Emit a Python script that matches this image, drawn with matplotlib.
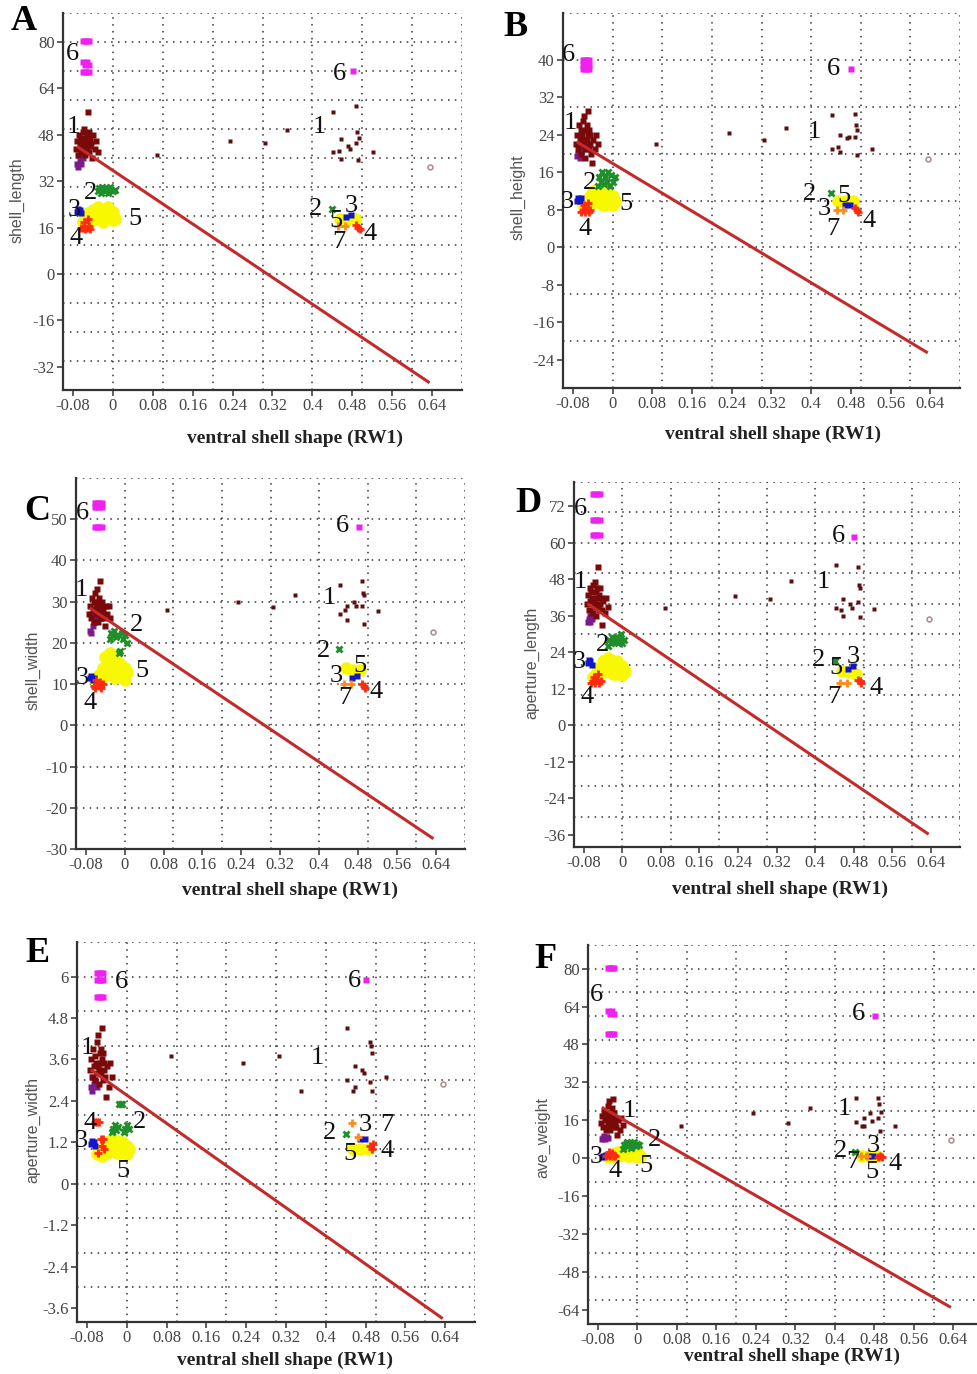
import numpy as np
import matplotlib
matplotlib.use('Agg')
import matplotlib.pyplot as plt

plt.rcParams['font.family'] = 'Liberation Serif'

# ---- shared x: ventral shell shape (RW1) ----
# group 1, left cluster (maroon)
g1L_x = [-0.074, -0.071, -0.069, -0.067, -0.066, -0.064, -0.063, -0.062, -0.060, -0.059,
         -0.058, -0.057, -0.056, -0.055, -0.054, -0.053, -0.052, -0.051, -0.050, -0.049,
         -0.048, -0.047, -0.046, -0.045, -0.043, -0.041, -0.039, -0.036, -0.033, -0.030]
g1L_y = [
    [43, 46, 41, 48, 44, 47, 42, 45, 49, 43, 46, 50, 44, 41, 47, 45, 48, 43, 56, 46, 42, 49, 44, 47, 45, 40, 48, 43, 46, 42],
    [22, 24, 21, 26, 23, 25, 20, 24, 27, 22, 23, 28, 21, 19, 25, 22, 26, 23, 29, 24, 21, 25, 22, 24, 20, 18, 23, 21, 24, 22],
    [27, 29, 26, 31, 28, 30, 25, 28, 32, 27, 29, 33, 27, 25, 30, 28, 31, 26, 35, 29, 26, 30, 27, 28, 26, 24, 29, 27, 29, 26],
    [40, 43, 38, 45, 41, 44, 37, 42, 46, 39, 41, 47, 40, 36, 44, 42, 45, 39, 52, 43, 38, 45, 40, 42, 38, 33, 41, 37, 42, 39],
    [3.3, 3.6, 3.1, 3.9, 3.4, 3.7, 3.0, 3.5, 4.1, 3.2, 3.4, 4.3, 3.3, 2.9, 3.8, 3.5, 3.9, 3.2, 4.5, 3.6, 3.0, 3.8, 3.3, 3.5, 3.1, 2.5, 3.4, 2.8, 3.5, 3.1],
    [15, 18, 13, 20, 16, 19, 12, 17, 22, 14, 16, 24, 15, 12, 19, 17, 21, 14, 25, 18, 13, 19, 15, 17, 13, 10, 16, 12, 17, 14],
]
# group 1, right cluster + scattered specimens (maroon)
g1R_x = [0.442, 0.488, 0.458, 0.490, 0.493, 0.472, 0.476, 0.488, 0.442, 0.454, 0.458, 0.492, 0.522,
         0.088, 0.234, 0.306, 0.350]
g1R_y = [
    [56, 58, 46.5, 49, 47, 44, 43, 45, 42, 42.5, 39.7, 39.4, 42, 41, 46, 45, 49.5],
    [28.3, 28.5, 24, 26, 25, 23.3, 23.5, 23.5, 21, 21.5, 20.3, 19.7, 21, 22, 24.5, 23, 25.5],
    [34, 35, 29, 32, 31.5, 30, 29, 29, 27, 28, 25.5, 24.5, 27.7, 28, 29.8, 28.6, 31.6],
    [52.8, 52, 41.6, 46, 45, 40, 38.7, 40.5, 38.7, 38, 36, 35.5, 38.4, 38.7, 42.5, 41.6, 47.3],
    [4.5, 4.1, 3.4, 4.0, 3.8, 3.3, 3.2, 2.95, 3.0, 2.7, 2.8, 2.7, 3.1, 3.7, 3.5, 3.7, 2.7],
    [25.6, 25.6, 17, 23, 19.5, 19, 15.5, 17, 15.3, 13.5, 13.5, 11.5, 13.5, 13.5, 19, 15, 21],
]
# purple sub-cluster
pur_x = [-0.072, -0.069, -0.066, -0.063, -0.060, -0.067]
pur_y = [
    [38, 37, 39, 38, 40, 41],
    [19.5, 20, 19, 20.5, 21, 22],
    [23, 22.5, 24, 25, 26, 27],
    [34, 35, 36, 35, 37, 34],
    [2.8, 2.7, 2.9, 3.0, 2.8, 3.1],
    [8, 8.5, 8, 9, 8.5, 9.5],
]
# group 2 (green)
g2_x = [-0.030, -0.027, -0.024, -0.021, -0.018, -0.015, -0.012, -0.009, -0.006, -0.003, 0.000, 0.004, 0.440]
g2_y = [
    [28.5, 29.5, 28, 30, 29, 28.5, 29.5, 28, 30, 29, 28.5, 29, 22.5],
    [13, 15, 14, 16, 13.5, 15, 14, 16, 13, 15.5, 14, 15, 11.5],
    [21, 22.5, 22, 23, 21.5, 22, 17.5, 18, 22.5, 21, 22, 20, 18.5],
    [26, 28, 27, 29, 27.5, 28, 29, 27, 28.5, 30, 27, 28, 21],
    [1.5, 1.6, 1.7, 1.55, 1.65, 2.3, 2.3, 2.3, 1.5, 1.6, 1.7, 1.6, 1.45],
    [4, 5.5, 6, 7, 5, 6.5, 4.5, 6, 7, 5, 6, 5.5, 2.5],
]
# group 3 (blue)
g3_x = [-0.072, -0.069, -0.066, -0.063, 0.468, 0.478]
g3_y = [
    [21.5, 22.5, 22, 21, 19.5, 20.5],
    [10, 10.5, 10, 10.5, 9, 9],
    [11.5, 12, 11, 11.5, 11.5, 12],
    [20.5, 21.5, 21, 20, 18.5, 19.5],
    [1.15, 1.25, 1.2, 1.1, 1.3, 1.3],
    [0.5, 1, 0.8, 1.2, 1, 1],
]
# group 4 (red)
g4_x = [-0.064, -0.060, -0.056, -0.052, -0.048, -0.045, -0.058, -0.050, 0.488, 0.492, 0.495]
g4_y = [
    [16, 16, 15.5, 16, 16.5, 15.5, 18, 19, 17, 16, 15.5],
    [7.5, 8, 7.5, 8, 7.5, 8, 9, 9.5, 8.5, 8, 7.5],
    [9.5, 9, 10, 9.5, 9, 10, 11, 10.5, 10, 9.5, 9],
    [14, 14.5, 14, 15, 14, 14.5, 16, 17, 15, 14.5, 14],
    [1.8, 1.8, 1.8, 1.3, 1.3, 1.0, 0.9, 1.1, 1.1, 1.0, 1.15],
    [1, 1.5, 1, 2, 1.5, 1, 2.5, 1, 0.5, 0.8, 0.3],
]
# group 5 (yellow)
g5_x = [-0.060, -0.055, -0.050, -0.045, -0.040, -0.035, -0.030, -0.025, -0.020, -0.015,
        -0.010, -0.005, 0.000, 0.005, -0.040, -0.030, -0.020, -0.010, 0.000, -0.050,
        0.455, 0.470, 0.485]
g5_y = [
    [18, 19, 17.5, 20, 18.5, 19, 21, 20, 22, 19, 21, 20, 18.5, 19, 22, 23, 18, 23, 21.5, 21, 19, 18.5, 19],
    [9, 10, 8.5, 11, 9.5, 10, 11.5, 10, 12, 9, 11, 10.5, 9, 10, 12, 12.5, 9, 11.5, 11, 10, 10, 10, 10],
    [11, 12, 10.5, 14, 12, 13, 16, 14, 17, 12, 15, 13.5, 11, 13, 16.5, 17.5, 11.5, 15, 14, 12.5, 14, 13.5, 13.5],
    [16, 17, 16, 19, 17.5, 18, 20, 19, 21, 17, 20, 19, 16.5, 18, 21, 22, 17, 21, 19.5, 19, 18, 17.5, 17],
    [0.85, 0.9, 0.8, 1.0, 0.9, 1.1, 1.2, 1.0, 1.25, 0.9, 1.1, 1.0, 0.85, 1.0, 1.2, 1.3, 0.9, 1.2, 1.1, 1.05, 1.0, 1.0, 1.0],
    [0.5, 1, 0.5, 2, 1, 1.5, 2.5, 2, 3, 1, 2, 1.5, 0.5, 1, 2.5, 3, 1, 2.5, 2, 1.5, 1, 1, 1],
]
# group 6 (magenta)
g6_x = [-0.060, -0.056, -0.052, -0.047, -0.060, -0.056, -0.052, -0.047, -0.060, -0.056, -0.052, -0.047, 0.481]
g6_y = [
    [80.5, 80.5, 80.5, 80.5, 73, 72, 73, 72, 69.5, 69.5, 69.5, 69.5, 70],
    [40, 40, 40, 40, 39, 39, 39, 39, 38, 38, 38, 38, 38],
    [54, 54, 54, 54, 53, 53, 53, 53, 48, 48, 48, 48, 48],
    [76, 76, 76, 76, 67.5, 67.5, 67.5, 67.5, 62.5, 62.5, 62.5, 62.5, 62],
    [6.1, 6.1, 6.1, 6.1, 5.9, 5.9, 5.9, 5.9, 5.4, 5.4, 5.4, 5.4, 5.9],
    [80.5, 80.5, 80.5, 80.5, 62, 61, 62, 61, 52.5, 52.5, 52.5, 52.5, 60],
]
# group 7 (orange)
g7_x = [0.452, 0.465]
g7_y = [
    [16.5, 16.5],
    [8, 8],
    [10, 10],
    [14, 14],
    [1.75, 1.35],
    [0.8, 0.8],
]
# outlier (grey circle)
out_x = [0.635]
out_y = [[37], [18.8], [22.7], [34.8], [2.9], [7.7]]

# regression lines, endpoints per panel
line_x = [-0.072, 0.635]
line_y = [[44, -37.5], [22.5, -22.5], [28.5, -27.5], [40, -35.8], [3.3, -3.9], [21.5, -63]]

letters = ['A', 'B', 'C', 'D', 'E', 'F']
ylabels = ['shell_length', 'shell_height', 'shell_width', 'aperture_length', 'aperture_width', 'ave_weight']
ylims = [(-40, 90), (-30, 50), (-30, 60), (-40, 80), (-4, 7), (-70, 90)]
yticks = [
    [-32, -16, 0, 16, 32, 48, 64, 80],
    [-24, -16, -8, 0, 8, 16, 24, 32, 40],
    [-30, -20, -10, 0, 10, 20, 30, 40, 50],
    [-36, -24, -12, 0, 12, 24, 36, 48, 60, 72],
    [-3.6, -2.4, -1.2, 0, 1.2, 2.4, 3.6, 4.8, 6],
    [-64, -48, -32, -16, 0, 16, 32, 48, 64, 80],
]
ygrid_step = [10, 10, 10, 10, 1, 10]
xticks = [-0.08, 0, 0.08, 0.16, 0.24, 0.32, 0.4, 0.48, 0.56, 0.64]

# group number labels (text, x, y) per panel
num_labels = [
    [('6', -0.082, 76), ('1', -0.080, 50.8), ('2', -0.044, 28), ('3', -0.078, 22), ('5', 0.044, 19),
     ('4', -0.074, 12.4), ('6', 0.454, 69), ('1', 0.414, 50.8), ('2', 0.406, 22.5), ('3', 0.478, 23.5),
     ('5', 0.448, 18.3), ('7', 0.454, 11), ('4', 0.516, 13.8)],
    [('6', -0.089, 41), ('1', -0.085, 26.5), ('2', -0.046, 13.8), ('3', -0.091, 9.6), ('5', 0.026, 9.3),
     ('4', -0.055, 4), ('6', 0.444, 38), ('1', 0.407, 24.7), ('2', 0.397, 11.4), ('5', 0.466, 11),
     ('3', 0.427, 8.2), ('7', 0.444, 4), ('4', 0.516, 5.7)],
    [('6', -0.087, 51.5), ('1', -0.089, 32.8), ('2', 0.024, 24.3), ('5', 0.035, 13.3), ('3', -0.087, 11.4),
     ('4', -0.072, 5.3), ('6', 0.447, 48.3), ('1', 0.420, 30.8), ('2', 0.408, 18), ('5', 0.483, 14.3),
     ('3', 0.435, 11.9), ('7', 0.452, 6.6), ('4', 0.518, 8.2)],
    [('6', -0.087, 71), ('1', -0.087, 47.2), ('2', -0.041, 26.4), ('3', -0.089, 20.8), ('4', -0.073, 9.2),
     ('6', 0.448, 62.4), ('1', 0.417, 47.2), ('2', 0.407, 21.5), ('5', 0.442, 18.8), ('3', 0.479, 22.4),
     ('7', 0.438, 9.2), ('4', 0.525, 12.2)],
    [('6', -0.010, 5.83), ('1', -0.080, 3.93), ('4', -0.073, 1.75), ('2', 0.026, 1.78), ('3', -0.091, 1.25),
     ('5', -0.008, 0.38), ('6', 0.457, 5.86), ('1', 0.383, 3.64), ('2', 0.408, 1.46), ('3', 0.479, 1.69),
     ('7', 0.523, 1.69), ('5', 0.449, 0.87), ('4', 0.523, 0.96)],
    [('6', -0.083, 69), ('1', -0.016, 19.8), ('2', 0.034, 7.6), ('3', -0.083, 0.4), ('4', -0.045, -5.5),
     ('5', 0.018, -3.4), ('6', 0.447, 60.8), ('1', 0.419, 20.7), ('2', 0.411, 2.9), ('7', 0.437, -1.7),
     ('3', 0.478, 5), ('5', 0.475, -6), ('4', 0.522, -2.5)],
]

W, H = 977, 1374
# axes boxes in pixels: left, right, top, bottom
boxes = [(63, 462, 13, 390), (563, 960, 13, 388), (76, 465, 478, 849),
         (574, 960, 482, 847), (77, 475, 942, 1322), (588, 983, 945, 1324)]
letter_pos = [(24, 22), (515, 27), (37, 511), (528, 504), (37, 954), (545, 960)]
ylabel_pos = [(17, 200), (518, 197), (33, 670), (532, 663), (33, 1130), (543, 1137)]
xlabel_pos = [(295, 438), (773, 434), (290, 890), (780, 889), (285, 1360), (792, 1356)]

fig = plt.figure(figsize=(W / 100, H / 100), dpi=100)

for i in range(6):
    l, r, t, b = boxes[i]
    ax = fig.add_axes([l / W, 1 - b / H, (r - l) / W, (b - t) / H])
    lo, hi = ylims[i]
    ax.set_xlim(-0.1, 0.7)
    ax.set_ylim(lo, hi)

    # dotted grid on round values, labelled ticks on other steps
    for gx in np.arange(0, 0.71, 0.1):
        ax.axvline(gx, color='#333333', lw=1.1, ls=(0, (1, 3.5)), zorder=0)
    for gy in np.arange(lo, hi + 1e-9, ygrid_step[i]):
        ax.axhline(gy, color='#333333', lw=1.1, ls=(0, (1, 3.5)), zorder=0)

    ax.set_yticks(yticks[i])
    ax.set_yticklabels(['%g' % v for v in yticks[i]])
    ax.set_xticks(xticks)
    ax.set_xticklabels(['%g' % v for v in xticks])
    ax.tick_params(axis='both', direction='out', length=4, width=1.2, color='#444444',
                   labelsize=12, labelcolor='#444444', pad=2)
    for s in ['top', 'right']:
        ax.spines[s].set_visible(False)
    for s in ['left', 'bottom']:
        ax.spines[s].set_color('#333333')
        ax.spines[s].set_linewidth(1.6)

    ax.plot(g6_x, g6_y[i], ls='none', marker='s', ms=4.5, color='#f020f0', mec='none', zorder=2)
    ax.plot(g5_x, g5_y[i], ls='none', marker='o', ms=9, color='#f8f800', mec='none', zorder=2)
    ax.plot(g2_x, g2_y[i], ls='none', marker='x', ms=5, mew=2, color='#1f8f2a', zorder=3)
    ax.plot(g3_x, g3_y[i], ls='none', marker='s', ms=4, color='#1414c8', mec='none', zorder=3)
    ax.plot(g4_x, g4_y[i], ls='none', marker='+', ms=6, mew=2, color='#ff2a10', zorder=3)
    ax.plot(g7_x, g7_y[i], ls='none', marker='+', ms=6, mew=2, color='#ff8c1a', zorder=3)
    ax.plot(pur_x, pur_y[i], ls='none', marker='s', ms=4.5, color='#7b1a8a', mec='none', zorder=3)
    ax.plot(g1L_x, g1L_y[i], ls='none', marker='s', ms=4.5, color='#7a0a0a', mec='none', zorder=4)
    ax.plot(g1R_x, g1R_y[i], ls='none', marker='s', ms=2.8, color='#5a1010', mec='none', zorder=4)
    ax.plot(out_x, out_y[i], ls='none', marker='o', ms=3.5, mfc='none', mec='#b09090', mew=1.2, zorder=4)

    ax.plot(line_x, line_y[i], color='#c42a2a', lw=2.2, zorder=5, solid_capstyle='butt')

    for txt, tx, ty in num_labels[i]:
        ax.text(tx, ty, txt, fontsize=19, ha='center', va='center', color='#111111', zorder=6)

    fig.text(letter_pos[i][0] / W, 1 - letter_pos[i][1] / H, letters[i], fontsize=26,
             fontweight='bold', ha='center', va='center')
    fig.text(ylabel_pos[i][0] / W, 1 - ylabel_pos[i][1] / H, ylabels[i], fontsize=11.5,
             family='Liberation Sans', color='#555555', rotation=90, ha='center', va='center')
    fig.text(xlabel_pos[i][0] / W, 1 - xlabel_pos[i][1] / H, 'ventral shell shape (RW1)',
             fontsize=14, fontweight='bold', ha='center', va='center', color='#222222')

fig.savefig('out.png', dpi=100)
